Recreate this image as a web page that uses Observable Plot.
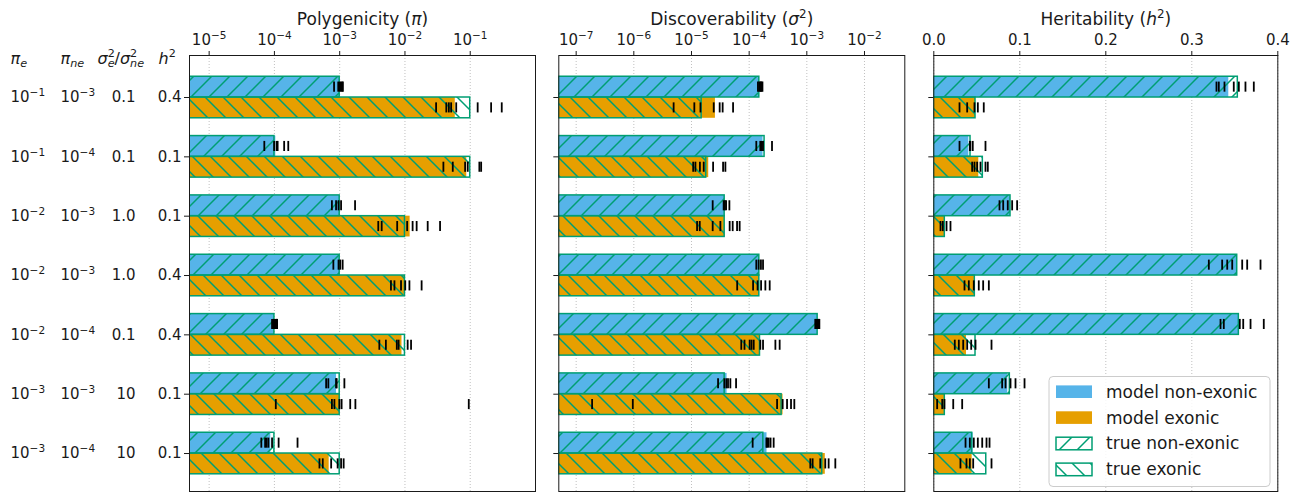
<!DOCTYPE html>
<html>
<head>
<meta charset="utf-8">
<script src="https://cdn.jsdelivr.net/npm/d3@7"></script>
<script src="https://cdn.jsdelivr.net/npm/@observablehq/plot@0.6"></script>
<style>
  body { margin: 0; background: #fff; font-family: "DejaVu Sans", sans-serif; }
  #wrap { position: relative; width: 1297px; height: 494px; overflow: hidden; }
  #wrap > svg.panel { position: absolute; top: 0; overflow: visible; }
</style>
</head>
<body>
<svg width="0" height="0" style="position:absolute">
  <defs>
    <pattern id="hatchNE" patternUnits="userSpaceOnUse" width="18" height="18">
      <path d="M0,18 L18,0 M-4.5,4.5 L4.5,-4.5 M13.5,22.5 L22.5,13.5" stroke="#009E73" stroke-width="1.5" fill="none"/>
    </pattern>
    <pattern id="hatchE" patternUnits="userSpaceOnUse" width="18" height="18">
      <path d="M0,0 L18,18 M-4.5,13.5 L4.5,22.5 M13.5,-4.5 L22.5,4.5" stroke="#009E73" stroke-width="1.5" fill="none"/>
    </pattern>
  </defs>
</svg>
<div id="wrap"></div>
<script>
// ---------------- data ----------------
const piE        = ["10⁻¹","10⁻¹","10⁻²","10⁻²","10⁻²","10⁻³","10⁻³"];
const piNE       = ["10⁻³","10⁻⁴","10⁻³","10⁻³","10⁻⁴","10⁻³","10⁻⁴"];
const sigmaRatio = ["0.1","0.1","1.0","1.0","0.1","10","10"];
const h2Total    = ["0.4","0.1","0.1","0.4","0.4","0.1","0.1"];
const headers    = ["πₑ", "πₙₑ", "σ²ₑ/σ²ₙₑ", "h²"];

const panelTitles = ["Polygenicity (π)", "Discoverability (σ²)", "Heritability (h²)"];
const legendLabels = ["model non-exonic", "model exonic", "true non-exonic", "true exonic"];

// Polygenicity
const piTicks = [1e-5, 1e-4, 1e-3, 1e-2, 1e-1];
const piTickLabels = ["10⁻⁵","10⁻⁴","10⁻³","10⁻²","10⁻¹"];
const piModelNE = [1.0e-3, 1.05e-4, 1.0e-3, 1.0e-3, 1.0e-4, 8.95e-4, 8.8e-5];
const piModelE  = [0.059, 0.0885, 0.0120, 0.0100, 0.0090, 1.0e-3, 6.9e-4];
const piTrueNE  = [1e-3, 1e-4, 1e-3, 1e-3, 1e-4, 1e-3, 1e-4];
const piTrueE   = [1e-1, 1e-1, 1e-2, 1e-2, 1e-2, 1e-3, 1e-3];
const piRepsNE = [
  [8.2e-4, 9.5e-4, 1.0e-3, 1.04e-3, 1.08e-3, 1.12e-3],
  [7.0e-5, 9.9e-5, 1.08e-4, 1.12e-4, 1.41e-4, 1.63e-4],
  [7.6e-4, 8.8e-4, 9.6e-4, 1.05e-3, 1.72e-3],
  [8.0e-4, 9.6e-4, 1.02e-3, 1.11e-3],
  [9.2e-5, 9.6e-5, 1.0e-4, 1.04e-4, 1.08e-4, 1.1e-4],
  [6.2e-4, 6.7e-4, 8.8e-4, 9.0e-4, 1.18e-3],
  [6.3e-5, 7.2e-5, 7.6e-5, 8.1e-5, 9.2e-5, 1.16e-4, 2.26e-4]
];
const piRepsE = [
  [0.030, 0.043, 0.047, 0.051, 0.061, 0.130, 0.209, 0.304],
  [0.0388, 0.054, 0.0835, 0.0916, 0.138, 0.147],
  [0.0039, 0.0044, 0.0076, 0.0108, 0.0131, 0.0151, 0.0223, 0.0345],
  [0.0061, 0.0069, 0.0087, 0.0101, 0.0117, 0.018],
  [0.00405, 0.0051, 0.0075, 0.0080, 0.0110, 0.0124],
  [1.05e-4, 7.6e-4, 8.3e-4, 9.9e-4, 1.07e-3, 1.45e-3, 1.74e-3, 0.095],
  [4.9e-4, 5.5e-4, 7.4e-4, 9.3e-4, 1.05e-3, 1.15e-3]
];

// Discoverability
const sgTicks = [1e-7, 1e-6, 1e-5, 1e-4, 1e-3, 1e-2];
const sgTickLabels = ["10⁻⁷","10⁻⁶","10⁻⁵","10⁻⁴","10⁻³","10⁻²"];
const sgModelNE = [1.50e-4, 1.74e-4, 3.76e-5, 1.50e-4, 1.54e-3, 4.14e-5, 2.04e-4];
const sgModelE  = [2.6e-5, 1.99e-5, 3.8e-5, 1.50e-4, 1.52e-4, 3.87e-4, 2.09e-3];
const sgTrueNE  = [1.50e-4, 1.85e-4, 3.76e-5, 1.50e-4, 1.54e-3, 3.76e-5, 1.76e-4];
const sgTrueE   = [1.5e-5, 1.8e-5, 3.76e-5, 1.50e-4, 1.54e-4, 3.65e-4, 1.85e-3];
const sgRepsNE = [
  [1.42e-4, 1.5e-4, 1.55e-4, 1.6e-4, 1.65e-4, 1.7e-4],
  [1.33e-4, 1.56e-4, 1.66e-4, 1.74e-4, 2.49e-4],
  [2.33e-5, 3.61e-5, 3.8e-5, 3.98e-5, 4.54e-5],
  [1.33e-4, 1.46e-4, 1.6e-4, 1.74e-4],
  [1.4e-3, 1.45e-3, 1.5e-3, 1.55e-3, 1.6e-3, 1.65e-3],
  [2.89e-5, 3.72e-5, 4.03e-5, 4.3e-5, 4.72e-5, 5.93e-5],
  [1.15e-4, 1.99e-4, 2.05e-4, 2.18e-4, 2.35e-4, 2.66e-4]
];
const sgRepsE = [
  [4.9e-6, 1.12e-5, 1.43e-5, 2.43e-5, 3.08e-5, 3.47e-5, 5.26e-5],
  [1.07e-5, 1.17e-5, 1.4e-5, 1.63e-5, 2.37e-5, 3.53e-5, 3.87e-5],
  [1.25e-5, 1.39e-5, 2.33e-5, 3.17e-5, 4.59e-5, 5.18e-5, 6.17e-5, 6.84e-5],
  [6.2e-5, 1.17e-4, 1.40e-4, 1.61e-4, 1.91e-4, 2.27e-4],
  [7.3e-5, 8.3e-5, 1.02e-4, 1.1e-4, 1.20e-4, 1.56e-4, 1.74e-4, 2.85e-4, 3.38e-4],
  [1.89e-7, 9.6e-7, 3.05e-4, 3.81e-4, 4.54e-4, 5.32e-4, 6.07e-4],
  [1.15e-3, 1.26e-3, 1.71e-3, 2.09e-3, 2.39e-3, 3.12e-3]
];

// Heritability
const h2Ticks = [0, 0.1, 0.2, 0.3, 0.4];
const h2TickLabels = ["0.0","0.1","0.2","0.3","0.4"];
const h2ModelNE = [0.343, 0.0407, 0.0892, 0.3528, 0.3547, 0.086, 0.0458];
const h2ModelE  = [0.0485, 0.0523, 0.0128, 0.0477, 0.038, 0.0128, 0.0446];
const h2TrueNE  = [0.3535, 0.0427, 0.0892, 0.3528, 0.3547, 0.0884, 0.0446];
const h2TrueE   = [0.0485, 0.057, 0.0128, 0.0477, 0.0485, 0.0128, 0.061];
const h2RepsNE = [
  [0.3287, 0.3314, 0.338, 0.3488, 0.3547, 0.3624, 0.3721],
  [0.0299, 0.0419, 0.0425, 0.0453, 0.0601],
  [0.0764, 0.0807, 0.0860, 0.0911, 0.0969],
  [0.3198, 0.3353, 0.3412, 0.3470, 0.3586, 0.3644, 0.3799],
  [0.3334, 0.3372, 0.3558, 0.3598, 0.3683, 0.3837],
  [0.0640, 0.0795, 0.0834, 0.0892, 0.0950, 0.1055],
  [0.0369, 0.0419, 0.0465, 0.0512, 0.0563, 0.0613, 0.0648]
];
const h2RepsE = [
  [0.0299, 0.0388, 0.0473, 0.0512, 0.0581],
  [0.0446, 0.0473, 0.0504, 0.0543, 0.0601, 0.0628],
  [0.0078, 0.0105, 0.0148, 0.0194],
  [0.0357, 0.0407, 0.0465, 0.0523, 0.0574, 0.0640],
  [0.0244, 0.0291, 0.0342, 0.0388, 0.0435, 0.0485, 0.0671],
  [0.0039, 0.0098, 0.0124, 0.0226, 0.033],
  [0.0310, 0.0380, 0.0419, 0.0458, 0.0671]
];

// ---------------- styling ----------------
const BLUE = "#56B4E9", ORANGE = "#E69F00", GREEN = "#009E73";
const FONT = "DejaVu Sans";
const H = 0.35;          // bar thickness in row units
const rowIdx = d3.range(7);

function panel(cfg) {
  const barsNE = rowIdx.map(i => ({row: i, model: cfg.modelNE[i], truth: cfg.trueNE[i]}));
  const barsE  = rowIdx.map(i => ({row: i, model: cfg.modelE[i],  truth: cfg.trueE[i]}));
  const repsNE = cfg.repsNE.flatMap((vs, i) => vs.map(v => ({row: i, v})));
  const repsE  = cfg.repsE.flatMap((vs, i) => vs.map(v => ({row: i, v})));
  const x0 = cfg.domain[0];
  const tickLabel = d => cfg.tickLabels[cfg.ticks.findIndex(t => Math.abs(t - d) <= Math.abs(d) * 1e-9)];
  const marks = [
    Plot.gridX(cfg.ticks, {stroke: "#b0b0b0", strokeOpacity: 1, strokeWidth: 0.8, strokeDasharray: "1,2"}),
    Plot.rect(barsNE, {x1: () => x0, x2: "model", y1: d => d.row - H, y2: d => d.row, fill: BLUE, clip: true}),
    Plot.rect(barsE,  {x1: () => x0, x2: "model", y1: d => d.row, y2: d => d.row + H, fill: ORANGE, clip: true}),
    Plot.rect(barsNE, {x1: () => x0, x2: "truth", y1: d => d.row - H, y2: d => d.row, fill: "url(#hatchNE)", stroke: GREEN, strokeWidth: 1.5, clip: true}),
    Plot.rect(barsE,  {x1: () => x0, x2: "truth", y1: d => d.row, y2: d => d.row + H, fill: "url(#hatchE)", stroke: GREEN, strokeWidth: 1.5, clip: true}),
    Plot.ruleX(repsNE, {x: "v", y1: d => d.row - H / 2 - 0.085, y2: d => d.row - H / 2 + 0.085, stroke: "black", strokeWidth: 1.8}),
    Plot.ruleX(repsE,  {x: "v", y1: d => d.row + H / 2 - 0.085, y2: d => d.row + H / 2 + 0.085, stroke: "black", strokeWidth: 1.8}),
    Plot.frame({stroke: "#1a1a1a", strokeWidth: 1}),
    Plot.axisX({anchor: "top", ticks: cfg.ticks, tickFormat: tickLabel, tickSize: 5, tickPadding: 6, label: null, fontSize: 15, stroke: "#1a1a1a"}),
    Plot.axisY({ticks: rowIdx, tickFormat: cfg.yLabels ? (d => cfg.yLabels[d]) : (() => ""), tickSize: 5, tickPadding: 3, label: null, fontSize: 15, stroke: "#1a1a1a"}),
    Plot.text([cfg.title], {text: d => d, frameAnchor: "top", dy: -36, fontSize: 17, lineAnchor: "middle"})
  ];
  if (cfg.extra) marks.push(...cfg.extra);
  const svg = Plot.plot({
    width: cfg.width, height: 494,
    marginTop: 55, marginBottom: 3,
    marginLeft: cfg.marginLeft, marginRight: cfg.marginRight,
    x: {type: cfg.type, domain: cfg.domain},
    y: {domain: [-0.708, 6.64], reverse: true},
    style: {fontFamily: FONT, fontSize: "15px", color: "#1a1a1a", background: "transparent", overflow: "visible"},
    marks
  });
  svg.classList.add("panel");
  svg.style.left = cfg.left + "px";
  return svg;
}

// turn unicode super/subscripts into real raised / lowered tspans (mathtext look)
const SUP = {"⁻":"−","⁰":"0","¹":"1","²":"2","³":"3","⁴":"4","⁵":"5","⁶":"6","⁷":"7","⁸":"8","⁹":"9"};
const SUB = {"ₑ":"e","ₙ":"n"};
function richify(svg) {
  svg.querySelectorAll("text").forEach(el => {
    if (el.children.length) return;
    const s = el.textContent;
    const chars = [...s];
    if (!chars.some(c => SUP[c] || SUB[c] || c === "π" || c === "σ")) return;
    const fs = parseFloat(getComputedStyle(el).fontSize) || 15;
    const segs = [];
    chars.forEach((c, i) => {
      const kind = SUP[c] ? "sup" : SUB[c] ? "sub" : "norm";
      const t = SUP[c] || SUB[c] || c;
      const ital = c === "π" || c === "σ" || (c === "h" && chars[i + 1] === "²") || kind === "sub";
      const last = segs[segs.length - 1];
      if (last && last.kind === kind && last.ital === ital) last.t += t;
      else segs.push({t, kind, ital});
    });
    el.textContent = "";
    let off = 0, prev = null;
    segs.forEach(sg => {
      const ts = document.createElementNS("http://www.w3.org/2000/svg", "tspan");
      const target = sg.kind === "sup" ? -0.4 * fs : sg.kind === "sub" ? 0.24 * fs : 0;
      if (target !== off) ts.setAttribute("dy", (target - off).toFixed(2));
      off = target;
      if (sg.kind !== "norm") ts.setAttribute("font-size", (0.7 * fs).toFixed(2));
      if (prev && sg.kind !== "norm" && prev.kind !== "norm" && prev.kind !== sg.kind) ts.setAttribute("dx", (-prev.width).toFixed(2));
      if (sg.ital) ts.setAttribute("font-style", "italic");
      ts.textContent = sg.t;
      el.appendChild(ts);
      sg.width = ts.getComputedTextLength();
      prev = sg;
    });
  });
}

// row labels for the first panel
const rowText = (arr, dx, anchor) => Plot.text(rowIdx, {y: d => d, text: d => arr[d], frameAnchor: "left", dx, textAnchor: anchor, fontSize: 15, lineAnchor: "middle"});
const headerText = (k, dx, anchor) => Plot.text([headers[k]], {text: d => d, frameAnchor: "top-left", dx, dy: 3, textAnchor: anchor, fontSize: 16, lineAnchor: "middle"});

const wrap = document.getElementById("wrap");

const svg1 = panel({
  left: 0, width: 545, marginLeft: 189, marginRight: 10,
  type: "log", domain: [5e-6, 1],
  ticks: piTicks, tickLabels: piTickLabels, title: panelTitles[0],
  modelNE: piModelNE, modelE: piModelE, trueNE: piTrueNE, trueE: piTrueE,
  repsNE: piRepsNE, repsE: piRepsE, yLabels: h2Total,
  extra: [
    rowText(piE, -179, "start"),
    rowText(piNE, -129, "start"),
    rowText(sigmaRatio, -54, "end"),
    headerText(0, -179, "start"),
    headerText(1, -129, "start"),
    headerText(2, -92, "start"),
    headerText(3, -31, "start")
  ]
});
wrap.appendChild(svg1);

const svg2 = panel({
  left: 545, width: 370, marginLeft: 13.3, marginRight: 10.7,
  type: "log", domain: [5e-8, 5e-2],
  ticks: sgTicks, tickLabels: sgTickLabels, title: panelTitles[1],
  modelNE: sgModelNE, modelE: sgModelE, trueNE: sgTrueNE, trueE: sgTrueE,
  repsNE: sgRepsNE, repsE: sgRepsE
});
wrap.appendChild(svg2);

const svg3 = panel({
  left: 915, width: 382, marginLeft: 18.3, marginRight: 19.7,
  type: "linear", domain: [0, 0.4],
  ticks: h2Ticks, tickLabels: h2TickLabels, title: panelTitles[2],
  modelNE: h2ModelNE, modelE: h2ModelE, trueNE: h2TrueNE, trueE: h2TrueE,
  repsNE: h2RepsNE, repsE: h2RepsE
});
wrap.appendChild(svg3);

[svg1, svg2, svg3].forEach(richify);

// legend (lower right of the heritability panel)
const lg = d3.select(svg3).append("g").attr("font-family", FONT).attr("font-size", 17)
  .attr("fill", "#1a1a1a").attr("text-anchor", "start");
lg.append("rect").attr("x", 134).attr("y", 376.5).attr("width", 221).attr("height", 110).attr("rx", 4)
  .attr("fill", "white").attr("fill-opacity", 0.85).attr("stroke", "#cccccc");
const legendFill = [BLUE, ORANGE, "url(#hatchNE)", "url(#hatchE)"];
const legendStroke = ["none", "none", GREEN, GREEN];
legendLabels.forEach((lab, k) => {
  const cy = 391.7 + k * 25.9;
  lg.append("rect").attr("x", 141).attr("y", cy - 6.3).attr("width", 36).attr("height", 12.6)
    .attr("fill", legendFill[k]).attr("stroke", legendStroke[k]).attr("stroke-width", 1.5);
  lg.append("text").attr("x", 191).attr("y", cy).attr("dy", "0.35em").text(lab);
});
</script>
</body>
</html>
